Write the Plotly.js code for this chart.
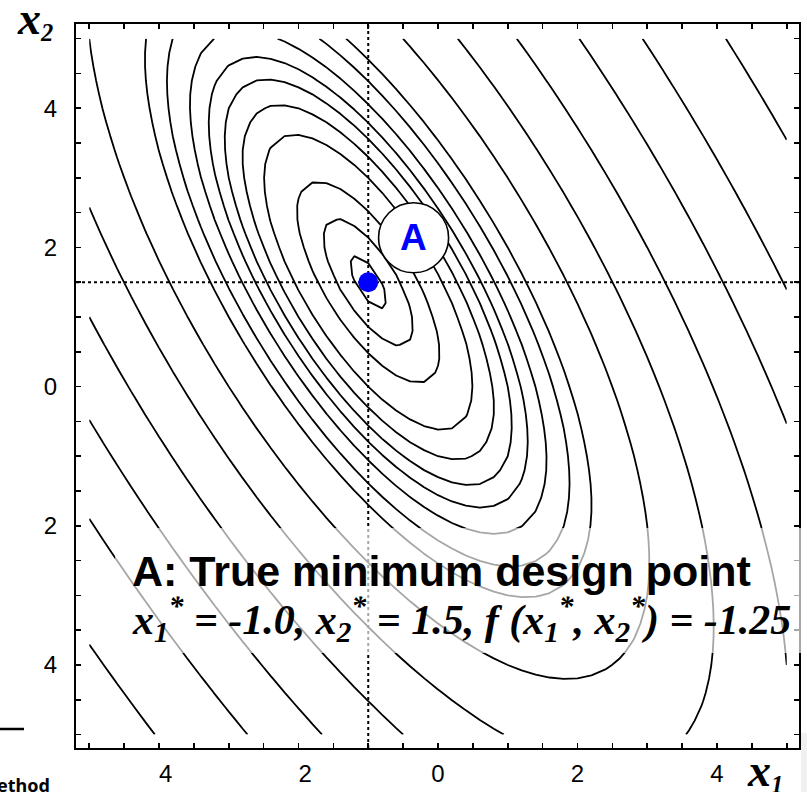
<!DOCTYPE html>
<html>
<head>
<meta charset="utf-8">
<script src="https://cdn.plot.ly/plotly-3.0.1.min.js"></script>
<style>
  html, body { margin: 0; padding: 0; background: #ffffff; }
  #chart { width: 807px; height: 792px; }
</style>
</head>
<body>
<div id="chart"></div>
<script>
// Objective: f(x1, x2) = x1 - x2 + 2 x1^2 + 2 x1 x2 + x2^2
const linearCoeffs = [1, -1];        // x1, x2
const quadCoeffs = [2, 2, 1];        // x1^2, x1*x2, x2^2
const gridLimits = [-5, 5];
const gridStep = 0.2;

// True minimum design point
const minimumPoint = [-1.0, 1.5];
const minimumValue = -1.25;

// Contour levels of f
const contourLevels = [-1.17, -0.83, -0.2, 1, 2, 3, 4, 5.3, 7.1, 9, 15, 23.3, 35, 50.5, 69.5, 99.5];

// Axis labels
const labelVals = [-4, -2, 0, 2, 4];
const xTickText = ['\u20074', '\u20072', '0', '2', '4'];
const yTickText = ['4', '2', '0', '2', '4'];

function objective(a, b) {
  return linearCoeffs[0] * a + linearCoeffs[1] * b +
         quadCoeffs[0] * a * a + quadCoeffs[1] * a * b + quadCoeffs[2] * b * b;
}

const nGrid = Math.round((gridLimits[1] - gridLimits[0]) / gridStep) + 1;
const gx = [], gy = [];
for (let i = 0; i < nGrid; i++) {
  const v = +(gridLimits[0] + i * gridStep).toFixed(6);
  gx.push(v); gy.push(v);
}
const gz = gy.map(b => gx.map(a => objective(a, b)));

const traces = contourLevels.map(level => ({
  type: 'contour',
  x: gx, y: gy, z: gz,
  autocontour: false,
  contours: { start: level, end: level + 1e-4, size: 1, coloring: 'none', showlabels: false },
  line: { color: '#000000', width: 1.8, smoothing: 0 },
  showscale: false,
  hoverinfo: 'skip'
}));

traces.push({
  type: 'scatter', mode: 'markers',
  x: [minimumPoint[0]], y: [minimumPoint[1]],
  marker: { size: 20, color: '#0000ff' },
  hoverinfo: 'skip', showlegend: false
});

// Plot frame in pixels
const W = 807, H = 792;
const L = 76, R = 799, T = 24, B = 748;
const px = v => (v - L) / (R - L);
const py = v => (B - v) / (B - T);

const axisCommon = {
  showline: true, linewidth: 2, linecolor: '#000000', mirror: 'ticks',
  ticks: 'inside', ticklen: 5, tickwidth: 1.6, tickcolor: '#000000',
  tickmode: 'array', tickvals: labelVals,
  minor: { ticks: 'inside', tick0: 0, dtick: 0.5, ticklen: 5, tickwidth: 1.6, tickcolor: '#000000', showgrid: false },
  showgrid: false, zeroline: false,
  tickfont: { family: 'Liberation Sans, Arial, sans-serif', size: 24, color: '#000000' }
};

const layout = {
  width: W, height: H,
  margin: { l: L, r: W - R, t: T, b: H - B, pad: 0 },
  paper_bgcolor: '#ffffff', plot_bgcolor: '#ffffff',
  showlegend: false,
  xaxis: Object.assign({}, axisCommon, { range: [-5.19, 5.176], ticktext: xTickText, ticklabelstandoff: 3 }),
  yaxis: Object.assign({}, axisCommon, { range: [-5.193, 5.211], ticktext: yTickText, ticklabelstandoff: 12 }),
  shapes: [
    // dotted cross-hair through the minimum
    { type: 'line', layer: 'below', xref: 'x', yref: 'paper', x0: minimumPoint[0], x1: minimumPoint[0], y0: 0, y1: 1,
      line: { color: '#000000', width: 2, dash: 'dot' } },
    { type: 'line', layer: 'below', xref: 'paper', yref: 'y', x0: 0, x1: 1, y0: minimumPoint[1], y1: minimumPoint[1],
      line: { color: '#000000', width: 2, dash: 'dot' } },
    // callout circle "A"
    { type: 'circle', layer: 'above', xref: 'x', yref: 'y',
      xsizemode: 'pixel', ysizemode: 'pixel', xanchor: -0.35, yanchor: 2.14,
      x0: -35, x1: 35, y0: -35, y1: 35,
      fillcolor: '#ffffff', line: { color: '#000000', width: 1.6 } },
    // translucent panel behind the caption
    { type: 'rect', layer: 'above', xref: 'paper', yref: 'paper',
      x0: px(115), x1: px(807), y0: py(653), y1: py(528),
      fillcolor: 'rgba(255,255,255,0.65)', line: { width: 0 } },
    // page rule at the lower left
    { type: 'line', layer: 'above', xref: 'paper', yref: 'paper',
      x0: px(0), x1: px(24), y0: py(729), y1: py(729),
      line: { color: '#000000', width: 2.5 } },
    // grey page strip at the lower right
    { type: 'rect', layer: 'below', xref: 'paper', yref: 'paper',
      x0: px(801), x1: px(808), y0: py(793), y1: py(733),
      fillcolor: '#f0f0f0', line: { width: 0 } }
  ],
  annotations: [
    { xref: 'x', yref: 'y', x: -0.35, y: 2.14, text: '<b>A</b>', showarrow: false,
      font: { family: 'Liberation Sans, Arial, sans-serif', size: 37, color: '#0000ff' } },
    { xref: 'paper', yref: 'paper', x: px(130), y: py(571), xanchor: 'left', yanchor: 'middle',
      text: '<b>A: True minimum design point</b>', showarrow: false,
      font: { family: 'Liberation Sans, Arial, sans-serif', size: 43, color: '#000000' } },
    { xref: 'paper', yref: 'paper', x: px(130), y: py(619), xanchor: 'left', yanchor: 'middle',
      text: '<b><i>x<sub>1</sub><sup>*</sup> = ' + minimumPoint[0].toFixed(1) +
            ', x<sub>2</sub><sup>*</sup> = ' + minimumPoint[1].toFixed(1) +
            ', f (x<sub>1</sub><sup>*</sup>, x<sub>2</sub><sup>*</sup>) = ' + minimumValue.toFixed(2) + '</i></b>',
      showarrow: false,
      font: { family: 'Liberation Serif, Times New Roman, serif', size: 42, color: '#000000' } },
    { xref: 'paper', yref: 'paper', x: px(15), y: py(20), xanchor: 'left', yanchor: 'middle',
      text: '<b><i><span style="font-size:46px">x</span><sub>2</sub></i></b>', showarrow: false,
      font: { family: 'Liberation Serif, Times New Roman, serif', size: 35, color: '#000000' } },
    { xref: 'paper', yref: 'paper', x: px(745), y: py(772), xanchor: 'left', yanchor: 'middle',
      text: '<b><i><span style="font-size:46px">x</span><sub>1</sub></i></b>', showarrow: false,
      font: { family: 'Liberation Serif, Times New Roman, serif', size: 35, color: '#000000' } },
    { xref: 'paper', yref: 'paper', x: px(-22), y: py(771), xanchor: 'left', yanchor: 'top',
      text: '<b>Method</b>', showarrow: false,
      font: { family: 'Noto Sans, sans-serif', size: 18, color: '#000000' } }
  ]
};

Plotly.newPlot('chart', traces, layout, { staticPlot: true, displayModeBar: false });
</script>
</body>
</html>
